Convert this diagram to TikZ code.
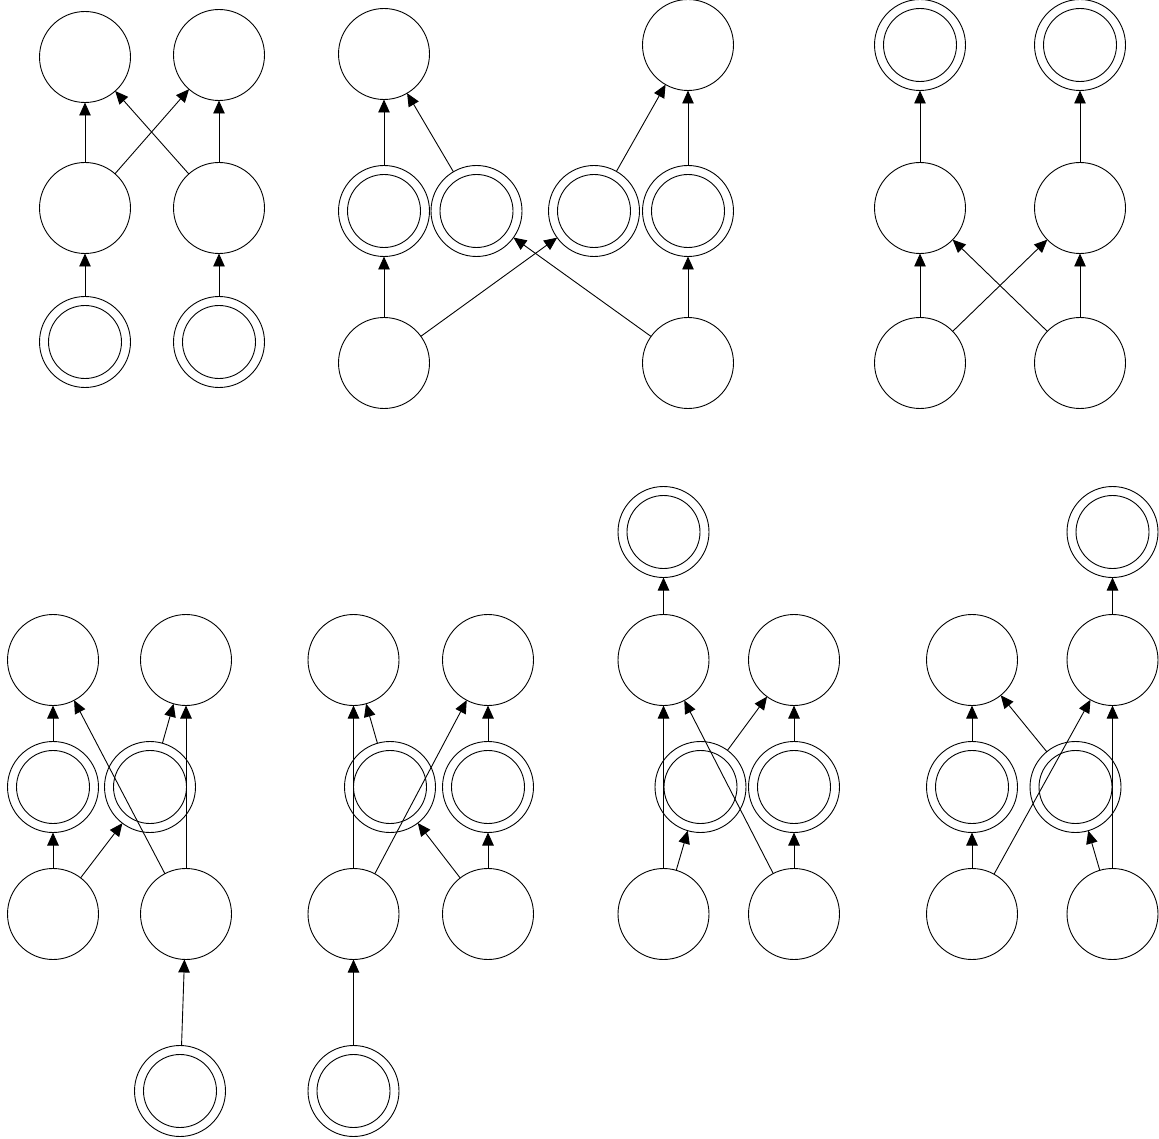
\documentclass[tikz,border=0pt]{standalone}
\usetikzlibrary{arrows.meta}
\tikzset{
  sc/.style={circle,draw,line width=0.9pt,minimum size=91pt,inner sep=0pt,outer sep=0pt},
  dc/.style={sc,path picture={\draw[line width=0.9pt] (path picture bounding box.center) circle[radius=36.5pt];}},
  ar/.style={-{Triangle[length=13pt,width=11.5pt]},line width=0.9pt}
}
\begin{document}
\begin{tikzpicture}[x=1pt,y=-1pt]
\useasboundingbox (0,0) rectangle (1159,1139);
% ---- graph 1 ----
\node[sc] (a_t1) at (85,57) {};
\node[sc] (a_t2) at (219,55) {};
\node[sc] (a_m1) at (85,208) {};
\node[sc] (a_m2) at (219,208) {};
\node[dc] (a_b1) at (85,342) {};
\node[dc] (a_b2) at (219,342) {};
\draw[ar] (a_m1) -- (a_t1);
\draw[ar] (a_m1) -- (a_t2);
\draw[ar] (a_m2) -- (a_t1);
\draw[ar] (a_m2) -- (a_t2);
\draw[ar] (a_b1) -- (a_m1);
\draw[ar] (a_b2) -- (a_m2);
% ---- graph 2 ----
\node[sc] (b_t1) at (384,54) {};
\node[sc] (b_t2) at (688,45) {};
\node[dc] (b_m1) at (384,211) {};
\node[dc] (b_m2) at (476.5,211) {};
\node[dc] (b_m3) at (594,211) {};
\node[dc] (b_m4) at (688,211) {};
\node[sc] (b_b1) at (384,363) {};
\node[sc] (b_b2) at (688,363) {};
\draw[ar] (b_b1) -- (b_m1);
\draw[ar] (b_b1) -- (b_m3);
\draw[ar] (b_b2) -- (b_m2);
\draw[ar] (b_b2) -- (b_m4);
\draw[ar] (b_m1) -- (b_t1);
\draw[ar] (b_m2) -- (b_t1);
\draw[ar] (b_m3) -- (b_t2);
\draw[ar] (b_m4) -- (b_t2);
% ---- graph 3 ----
\node[dc] (c_t1) at (920,45) {};
\node[dc] (c_t2) at (1080,45) {};
\node[sc] (c_m1) at (920,208) {};
\node[sc] (c_m2) at (1080,208) {};
\node[sc] (c_b1) at (920,363) {};
\node[sc] (c_b2) at (1080,363) {};
\draw[ar] (c_b1) -- (c_m1);
\draw[ar] (c_b1) -- (c_m2);
\draw[ar] (c_b2) -- (c_m1);
\draw[ar] (c_b2) -- (c_m2);
\draw[ar] (c_m1) -- (c_t1);
\draw[ar] (c_m2) -- (c_t2);
% ---- graph 4 ----
\node[sc] (d_t1) at (53,660) {};
\node[sc] (d_t2) at (186,660) {};
\node[dc] (d_m1) at (53,787) {};
\node[dc] (d_m2) at (150,787) {};
\node[sc] (d_b1) at (53,914) {};
\node[sc] (d_b2) at (186,914) {};
\node[dc] (d_x) at (180,1091) {};
\draw[ar] (d_b1) -- (d_m1);
\draw[ar] (d_b1) -- (d_m2);
\draw[ar] (d_b2) -- (d_t1);
\draw[ar] (d_b2) -- (d_t2);
\draw[ar] (d_m1) -- (d_t1);
\draw[ar] (d_m2) -- (d_t2);
\draw[ar] (d_x) -- (d_b2);
% ---- graph 5 ----
\node[sc] (e_t1) at (353.5,660) {};
\node[sc] (e_t2) at (488,660) {};
\node[dc] (e_m1) at (390,787) {};
\node[dc] (e_m2) at (488,787) {};
\node[sc] (e_b1) at (353.5,914) {};
\node[sc] (e_b2) at (488,914) {};
\node[dc] (e_x) at (353.5,1091) {};
\draw[ar] (e_b1) -- (e_t1);
\draw[ar] (e_m1) -- (e_t1);
\draw[ar] (e_b1) -- (e_t2);
\draw[ar] (e_m2) -- (e_t2);
\draw[ar] (e_b2) -- (e_m1);
\draw[ar] (e_b2) -- (e_m2);
\draw[ar] (e_x) -- (e_b1);
% ---- graph 6 ----
\node[dc] (f_x) at (663.5,532) {};
\node[sc] (f_t1) at (663.5,660) {};
\node[sc] (f_t2) at (794,660) {};
\node[dc] (f_m1) at (700.5,787) {};
\node[dc] (f_m2) at (794,787) {};
\node[sc] (f_b1) at (663.5,914) {};
\node[sc] (f_b2) at (794,914) {};
\draw[ar] (f_t1) -- (f_x);
\draw[ar] (f_b1) -- (f_t1);
\draw[ar] (f_b1) -- (f_m1);
\draw[ar] (f_b2) -- (f_t1);
\draw[ar] (f_m1) -- (f_t2);
\draw[ar] (f_m2) -- (f_t2);
\draw[ar] (f_b2) -- (f_m2);
% ---- graph 7 ----
\node[dc] (g_x) at (1112.5,532) {};
\node[sc] (g_t1) at (972,660) {};
\node[sc] (g_t2) at (1112.5,660) {};
\node[dc] (g_m1) at (972,787) {};
\node[dc] (g_m2) at (1075.5,787) {};
\node[sc] (g_b1) at (972,914) {};
\node[sc] (g_b2) at (1112.5,914) {};
\draw[ar] (g_t2) -- (g_x);
\draw[ar] (g_b1) -- (g_m1);
\draw[ar] (g_b1) -- (g_t2);
\draw[ar] (g_b2) -- (g_m2);
\draw[ar] (g_b2) -- (g_t2);
\draw[ar] (g_m1) -- (g_t1);
\draw[ar] (g_m2) -- (g_t1);
\end{tikzpicture}
\end{document}
